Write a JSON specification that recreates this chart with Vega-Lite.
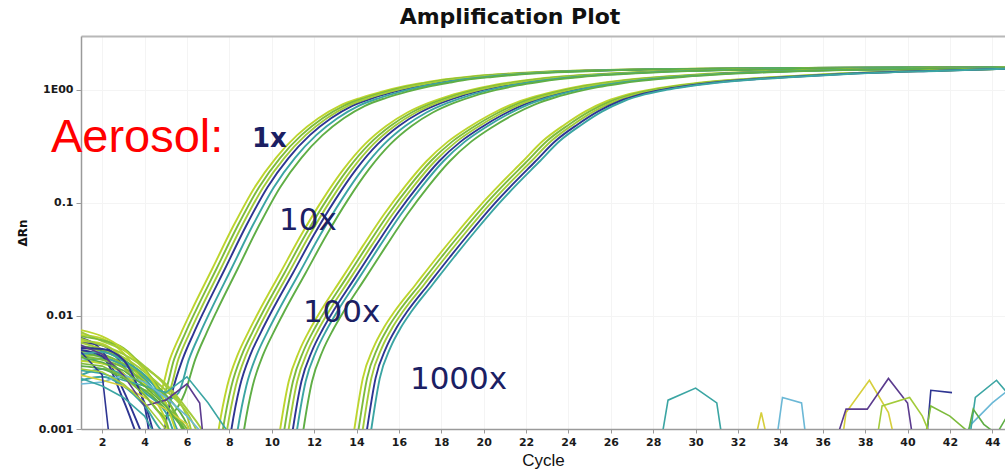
{
"$schema": "https://vega.github.io/schema/vega-lite/v6.json",
"width": 924, "height": 393,
"autosize": {"type": "none"},
"padding": {"left": 81, "top": 36, "right": 0, "bottom": 41},
"background": "white",
"title": {"text": "Amplification Plot", "font": "DejaVu Sans", "fontSize": 22, "fontWeight": "bold", "color": "#111111", "anchor": "middle", "dx": -33, "offset": 7},
"config": {
 "view": {"stroke": null},
 "axis": {"labelFont": "DejaVu Sans", "labelFontWeight": "bold", "labelFontSize": 11, "labelColor": "#1a1a1a", "domainColor": "#9a9a9a", "domainWidth": 1.5, "tickColor": "#9a9a9a", "gridColor": "#f4f4f4", "gridWidth": 1}
},
"resolve": {"axis": {"x": "independent"}},
"layer": [
{
 "data": {"values": [
{"well":"A1","cycle":1,"rn":0.0068},{"well":"A1","cycle":2,"rn":0.0063},{"well":"A1","cycle":3,"rn":0.0047},{"well":"A1","cycle":4,"rn":0.0027},{"well":"A1","cycle":4.7,"rn":0.00209},{"well":"A1","cycle":5.2,"rn":0.00417},{"well":"A1","cycle":5.7,"rn":0.00692},{"well":"A1","cycle":6.2,"rn":0.011},{"well":"A1","cycle":7.2,"rn":0.0263},{"well":"A1","cycle":8.2,"rn":0.0631},{"well":"A1","cycle":9.2,"rn":0.138},{"well":"A1","cycle":10.2,"rn":0.251},{"well":"A1","cycle":11.2,"rn":0.398},{"well":"A1","cycle":12.2,"rn":0.562},{"well":"A1","cycle":13.2,"rn":0.724},{"well":"A1","cycle":14.2,"rn":0.851},{"well":"A1","cycle":15.2,"rn":0.966},{"well":"A1","cycle":16.2,"rn":1.072},{"well":"A1","cycle":17.2,"rn":1.161},{"well":"A1","cycle":18.2,"rn":1.245},{"well":"A1","cycle":19.2,"rn":1.303},{"well":"A1","cycle":20.2,"rn":1.355},{"well":"A1","cycle":22.2,"rn":1.429},{"well":"A1","cycle":24.2,"rn":1.479},{"well":"A1","cycle":27.2,"rn":1.521},{"well":"A1","cycle":31.2,"rn":1.549},{"well":"A1","cycle":37.2,"rn":1.574},{"well":"A1","cycle":45.5,"rn":1.592},
{"well":"A2","cycle":1,"rn":0.0052},{"well":"A2","cycle":2,"rn":0.0049},{"well":"A2","cycle":3,"rn":0.004},{"well":"A2","cycle":4,"rn":0.0024},{"well":"A2","cycle":4.9,"rn":0.00209},{"well":"A2","cycle":5.4,"rn":0.00417},{"well":"A2","cycle":5.9,"rn":0.00692},{"well":"A2","cycle":6.4,"rn":0.011},{"well":"A2","cycle":7.4,"rn":0.0263},{"well":"A2","cycle":8.4,"rn":0.0631},{"well":"A2","cycle":9.4,"rn":0.138},{"well":"A2","cycle":10.4,"rn":0.251},{"well":"A2","cycle":11.4,"rn":0.398},{"well":"A2","cycle":12.4,"rn":0.562},{"well":"A2","cycle":13.4,"rn":0.724},{"well":"A2","cycle":14.4,"rn":0.851},{"well":"A2","cycle":15.4,"rn":0.966},{"well":"A2","cycle":16.4,"rn":1.072},{"well":"A2","cycle":17.4,"rn":1.161},{"well":"A2","cycle":18.4,"rn":1.245},{"well":"A2","cycle":19.4,"rn":1.303},{"well":"A2","cycle":20.4,"rn":1.355},{"well":"A2","cycle":22.4,"rn":1.429},{"well":"A2","cycle":24.4,"rn":1.479},{"well":"A2","cycle":27.4,"rn":1.521},{"well":"A2","cycle":31.4,"rn":1.549},{"well":"A2","cycle":37.4,"rn":1.574},{"well":"A2","cycle":45.5,"rn":1.592},
{"well":"A3","cycle":1,"rn":0.0058},{"well":"A3","cycle":2,"rn":0.0055},{"well":"A3","cycle":3,"rn":0.0036},{"well":"A3","cycle":4,"rn":0.0016},{"well":"A3","cycle":4.6,"rn":0.000398},{"well":"A3","cycle":4.9,"rn":0.000891},{"well":"A3","cycle":5.3,"rn":0.00209},{"well":"A3","cycle":5.8,"rn":0.00417},{"well":"A3","cycle":6.3,"rn":0.00692},{"well":"A3","cycle":6.8,"rn":0.011},{"well":"A3","cycle":7.8,"rn":0.0263},{"well":"A3","cycle":8.8,"rn":0.0631},{"well":"A3","cycle":9.8,"rn":0.138},{"well":"A3","cycle":10.8,"rn":0.251},{"well":"A3","cycle":11.8,"rn":0.398},{"well":"A3","cycle":12.8,"rn":0.562},{"well":"A3","cycle":13.8,"rn":0.724},{"well":"A3","cycle":14.8,"rn":0.851},{"well":"A3","cycle":15.8,"rn":0.966},{"well":"A3","cycle":16.8,"rn":1.072},{"well":"A3","cycle":17.8,"rn":1.161},{"well":"A3","cycle":18.8,"rn":1.245},{"well":"A3","cycle":19.8,"rn":1.303},{"well":"A3","cycle":20.8,"rn":1.355},{"well":"A3","cycle":22.8,"rn":1.429},{"well":"A3","cycle":24.8,"rn":1.479},{"well":"A3","cycle":27.8,"rn":1.521},{"well":"A3","cycle":31.8,"rn":1.549},{"well":"A3","cycle":37.8,"rn":1.574},{"well":"A3","cycle":45.5,"rn":1.592},
{"well":"A4","cycle":1,"rn":0.0045},{"well":"A4","cycle":2,"rn":0.0044},{"well":"A4","cycle":3,"rn":0.0035},{"well":"A4","cycle":4,"rn":0.0022},{"well":"A4","cycle":5.1,"rn":0.00209},{"well":"A4","cycle":5.6,"rn":0.00417},{"well":"A4","cycle":6.1,"rn":0.00692},{"well":"A4","cycle":6.6,"rn":0.011},{"well":"A4","cycle":7.6,"rn":0.0263},{"well":"A4","cycle":8.6,"rn":0.0631},{"well":"A4","cycle":9.6,"rn":0.138},{"well":"A4","cycle":10.6,"rn":0.251},{"well":"A4","cycle":11.6,"rn":0.398},{"well":"A4","cycle":12.6,"rn":0.562},{"well":"A4","cycle":13.6,"rn":0.724},{"well":"A4","cycle":14.6,"rn":0.851},{"well":"A4","cycle":15.6,"rn":0.966},{"well":"A4","cycle":16.6,"rn":1.072},{"well":"A4","cycle":17.6,"rn":1.161},{"well":"A4","cycle":18.6,"rn":1.245},{"well":"A4","cycle":19.6,"rn":1.303},{"well":"A4","cycle":20.6,"rn":1.355},{"well":"A4","cycle":22.6,"rn":1.429},{"well":"A4","cycle":24.6,"rn":1.479},{"well":"A4","cycle":27.6,"rn":1.521},{"well":"A4","cycle":31.6,"rn":1.549},{"well":"A4","cycle":37.6,"rn":1.574},{"well":"A4","cycle":45.5,"rn":1.592},
{"well":"A5","cycle":1,"rn":0.004},{"well":"A5","cycle":2,"rn":0.0042},{"well":"A5","cycle":3,"rn":0.0037},{"well":"A5","cycle":4,"rn":0.0028},{"well":"A5","cycle":5,"rn":0.0018},{"well":"A5","cycle":5.6,"rn":0.00209},{"well":"A5","cycle":6.1,"rn":0.00417},{"well":"A5","cycle":6.6,"rn":0.00692},{"well":"A5","cycle":7.1,"rn":0.011},{"well":"A5","cycle":8.1,"rn":0.0263},{"well":"A5","cycle":9.1,"rn":0.0631},{"well":"A5","cycle":10.1,"rn":0.138},{"well":"A5","cycle":11.1,"rn":0.251},{"well":"A5","cycle":12.1,"rn":0.398},{"well":"A5","cycle":13.1,"rn":0.562},{"well":"A5","cycle":14.1,"rn":0.724},{"well":"A5","cycle":15.1,"rn":0.851},{"well":"A5","cycle":16.1,"rn":0.966},{"well":"A5","cycle":17.1,"rn":1.072},{"well":"A5","cycle":18.1,"rn":1.161},{"well":"A5","cycle":19.1,"rn":1.245},{"well":"A5","cycle":20.1,"rn":1.303},{"well":"A5","cycle":21.1,"rn":1.355},{"well":"A5","cycle":23.1,"rn":1.429},{"well":"A5","cycle":25.1,"rn":1.479},{"well":"A5","cycle":28.1,"rn":1.521},{"well":"A5","cycle":32.1,"rn":1.549},{"well":"A5","cycle":38.1,"rn":1.574},{"well":"A5","cycle":45.5,"rn":1.592},
{"well":"A6","cycle":1,"rn":0.0047},{"well":"A6","cycle":2,"rn":0.0043},{"well":"A6","cycle":3,"rn":0.0031},{"well":"A6","cycle":4,"rn":0.002},{"well":"A6","cycle":5,"rn":0.0013},{"well":"A6","cycle":5.9,"rn":0.00209},{"well":"A6","cycle":6.4,"rn":0.00417},{"well":"A6","cycle":6.9,"rn":0.00692},{"well":"A6","cycle":7.4,"rn":0.011},{"well":"A6","cycle":8.4,"rn":0.0263},{"well":"A6","cycle":9.4,"rn":0.0631},{"well":"A6","cycle":10.4,"rn":0.138},{"well":"A6","cycle":11.4,"rn":0.251},{"well":"A6","cycle":12.4,"rn":0.398},{"well":"A6","cycle":13.4,"rn":0.562},{"well":"A6","cycle":14.4,"rn":0.724},{"well":"A6","cycle":15.4,"rn":0.851},{"well":"A6","cycle":16.4,"rn":0.966},{"well":"A6","cycle":17.4,"rn":1.072},{"well":"A6","cycle":18.4,"rn":1.161},{"well":"A6","cycle":19.4,"rn":1.245},{"well":"A6","cycle":20.4,"rn":1.303},{"well":"A6","cycle":21.4,"rn":1.355},{"well":"A6","cycle":23.4,"rn":1.429},{"well":"A6","cycle":25.4,"rn":1.479},{"well":"A6","cycle":28.4,"rn":1.521},{"well":"A6","cycle":32.4,"rn":1.549},{"well":"A6","cycle":38.4,"rn":1.574},{"well":"A6","cycle":45.5,"rn":1.592},
{"well":"B1","cycle":1,"rn":0.006},{"well":"B1","cycle":2,"rn":0.0057},{"well":"B1","cycle":3,"rn":0.0042},{"well":"B1","cycle":4,"rn":0.0025},{"well":"B1","cycle":5,"rn":0.0012},{"well":"B1","cycle":6,"rn":0.0003},{"well":"B1","cycle":7.2,"rn":0.000398},{"well":"B1","cycle":7.5,"rn":0.001},{"well":"B1","cycle":7.9,"rn":0.0024},{"well":"B1","cycle":8.4,"rn":0.00457},{"well":"B1","cycle":8.9,"rn":0.00724},{"well":"B1","cycle":9.4,"rn":0.011},{"well":"B1","cycle":10.4,"rn":0.024},{"well":"B1","cycle":11.4,"rn":0.0525},{"well":"B1","cycle":12.4,"rn":0.107},{"well":"B1","cycle":13.4,"rn":0.2},{"well":"B1","cycle":14.4,"rn":0.331},{"well":"B1","cycle":15.4,"rn":0.479},{"well":"B1","cycle":16.4,"rn":0.631},{"well":"B1","cycle":17.4,"rn":0.767},{"well":"B1","cycle":18.4,"rn":0.891},{"well":"B1","cycle":19.4,"rn":1.0},{"well":"B1","cycle":20.4,"rn":1.096},{"well":"B1","cycle":21.4,"rn":1.175},{"well":"B1","cycle":22.4,"rn":1.245},{"well":"B1","cycle":23.4,"rn":1.303},{"well":"B1","cycle":25.4,"rn":1.38},{"well":"B1","cycle":27.4,"rn":1.445},{"well":"B1","cycle":30.4,"rn":1.496},{"well":"B1","cycle":34.4,"rn":1.535},{"well":"B1","cycle":40.4,"rn":1.567},{"well":"B1","cycle":45.5,"rn":1.585},
{"well":"B2","cycle":1,"rn":0.0049},{"well":"B2","cycle":2,"rn":0.0046},{"well":"B2","cycle":3,"rn":0.0038},{"well":"B2","cycle":4,"rn":0.0029},{"well":"B2","cycle":5,"rn":0.0019},{"well":"B2","cycle":6,"rn":0.0008},{"well":"B2","cycle":7,"rn":0.0003},{"well":"B2","cycle":7.4,"rn":0.000398},{"well":"B2","cycle":7.7,"rn":0.001},{"well":"B2","cycle":8.1,"rn":0.0024},{"well":"B2","cycle":8.6,"rn":0.00457},{"well":"B2","cycle":9.1,"rn":0.00724},{"well":"B2","cycle":9.6,"rn":0.011},{"well":"B2","cycle":10.6,"rn":0.024},{"well":"B2","cycle":11.6,"rn":0.0525},{"well":"B2","cycle":12.6,"rn":0.107},{"well":"B2","cycle":13.6,"rn":0.2},{"well":"B2","cycle":14.6,"rn":0.331},{"well":"B2","cycle":15.6,"rn":0.479},{"well":"B2","cycle":16.6,"rn":0.631},{"well":"B2","cycle":17.6,"rn":0.767},{"well":"B2","cycle":18.6,"rn":0.891},{"well":"B2","cycle":19.6,"rn":1.0},{"well":"B2","cycle":20.6,"rn":1.096},{"well":"B2","cycle":21.6,"rn":1.175},{"well":"B2","cycle":22.6,"rn":1.245},{"well":"B2","cycle":23.6,"rn":1.303},{"well":"B2","cycle":25.6,"rn":1.38},{"well":"B2","cycle":27.6,"rn":1.445},{"well":"B2","cycle":30.6,"rn":1.496},{"well":"B2","cycle":34.6,"rn":1.535},{"well":"B2","cycle":40.6,"rn":1.567},{"well":"B2","cycle":45.5,"rn":1.585},
{"well":"B3","cycle":1,"rn":0.0064},{"well":"B3","cycle":2,"rn":0.0049},{"well":"B3","cycle":3,"rn":0.0022},{"well":"B3","cycle":4,"rn":0.0008},{"well":"B3","cycle":5,"rn":0.0003},{"well":"B3","cycle":7.8,"rn":0.000398},{"well":"B3","cycle":8.1,"rn":0.001},{"well":"B3","cycle":8.5,"rn":0.0024},{"well":"B3","cycle":9,"rn":0.00457},{"well":"B3","cycle":9.5,"rn":0.00724},{"well":"B3","cycle":10,"rn":0.011},{"well":"B3","cycle":11,"rn":0.024},{"well":"B3","cycle":12,"rn":0.0525},{"well":"B3","cycle":13,"rn":0.107},{"well":"B3","cycle":14,"rn":0.2},{"well":"B3","cycle":15,"rn":0.331},{"well":"B3","cycle":16,"rn":0.479},{"well":"B3","cycle":17,"rn":0.631},{"well":"B3","cycle":18,"rn":0.767},{"well":"B3","cycle":19,"rn":0.891},{"well":"B3","cycle":20,"rn":1.0},{"well":"B3","cycle":21,"rn":1.096},{"well":"B3","cycle":22,"rn":1.175},{"well":"B3","cycle":23,"rn":1.245},{"well":"B3","cycle":24,"rn":1.303},{"well":"B3","cycle":26,"rn":1.38},{"well":"B3","cycle":28,"rn":1.445},{"well":"B3","cycle":31,"rn":1.496},{"well":"B3","cycle":35,"rn":1.535},{"well":"B3","cycle":41,"rn":1.567},{"well":"B3","cycle":45.5,"rn":1.585},
{"well":"B4","cycle":1,"rn":0.0072},{"well":"B4","cycle":2,"rn":0.006},{"well":"B4","cycle":3,"rn":0.005},{"well":"B4","cycle":4,"rn":0.0036},{"well":"B4","cycle":5,"rn":0.0024},{"well":"B4","cycle":6,"rn":0.0013},{"well":"B4","cycle":7,"rn":0.0003},{"well":"B4","cycle":7.6,"rn":0.000398},{"well":"B4","cycle":7.9,"rn":0.001},{"well":"B4","cycle":8.3,"rn":0.0024},{"well":"B4","cycle":8.8,"rn":0.00457},{"well":"B4","cycle":9.3,"rn":0.00724},{"well":"B4","cycle":9.8,"rn":0.011},{"well":"B4","cycle":10.8,"rn":0.024},{"well":"B4","cycle":11.8,"rn":0.0525},{"well":"B4","cycle":12.8,"rn":0.107},{"well":"B4","cycle":13.8,"rn":0.2},{"well":"B4","cycle":14.8,"rn":0.331},{"well":"B4","cycle":15.8,"rn":0.479},{"well":"B4","cycle":16.8,"rn":0.631},{"well":"B4","cycle":17.8,"rn":0.767},{"well":"B4","cycle":18.8,"rn":0.891},{"well":"B4","cycle":19.8,"rn":1.0},{"well":"B4","cycle":20.8,"rn":1.096},{"well":"B4","cycle":21.8,"rn":1.175},{"well":"B4","cycle":22.8,"rn":1.245},{"well":"B4","cycle":23.8,"rn":1.303},{"well":"B4","cycle":25.8,"rn":1.38},{"well":"B4","cycle":27.8,"rn":1.445},{"well":"B4","cycle":30.8,"rn":1.496},{"well":"B4","cycle":34.8,"rn":1.535},{"well":"B4","cycle":40.8,"rn":1.567},{"well":"B4","cycle":45.5,"rn":1.585},
{"well":"B5","cycle":1,"rn":0.003},{"well":"B5","cycle":2,"rn":0.0034},{"well":"B5","cycle":3,"rn":0.003},{"well":"B5","cycle":4,"rn":0.0021},{"well":"B5","cycle":5,"rn":0.0014},{"well":"B5","cycle":6,"rn":0.0005},{"well":"B5","cycle":8.1,"rn":0.000398},{"well":"B5","cycle":8.4,"rn":0.001},{"well":"B5","cycle":8.8,"rn":0.0024},{"well":"B5","cycle":9.3,"rn":0.00457},{"well":"B5","cycle":9.8,"rn":0.00724},{"well":"B5","cycle":10.3,"rn":0.011},{"well":"B5","cycle":11.3,"rn":0.024},{"well":"B5","cycle":12.3,"rn":0.0525},{"well":"B5","cycle":13.3,"rn":0.107},{"well":"B5","cycle":14.3,"rn":0.2},{"well":"B5","cycle":15.3,"rn":0.331},{"well":"B5","cycle":16.3,"rn":0.479},{"well":"B5","cycle":17.3,"rn":0.631},{"well":"B5","cycle":18.3,"rn":0.767},{"well":"B5","cycle":19.3,"rn":0.891},{"well":"B5","cycle":20.3,"rn":1.0},{"well":"B5","cycle":21.3,"rn":1.096},{"well":"B5","cycle":22.3,"rn":1.175},{"well":"B5","cycle":23.3,"rn":1.245},{"well":"B5","cycle":24.3,"rn":1.303},{"well":"B5","cycle":26.3,"rn":1.38},{"well":"B5","cycle":28.3,"rn":1.445},{"well":"B5","cycle":31.3,"rn":1.496},{"well":"B5","cycle":35.3,"rn":1.535},{"well":"B5","cycle":41.3,"rn":1.567},{"well":"B5","cycle":45.5,"rn":1.585},
{"well":"B6","cycle":1,"rn":0.0054},{"well":"B6","cycle":2,"rn":0.005},{"well":"B6","cycle":3,"rn":0.0041},{"well":"B6","cycle":4,"rn":0.003},{"well":"B6","cycle":5,"rn":0.002},{"well":"B6","cycle":6,"rn":0.0011},{"well":"B6","cycle":7,"rn":0.0003},{"well":"B6","cycle":8.4,"rn":0.000398},{"well":"B6","cycle":8.7,"rn":0.001},{"well":"B6","cycle":9.1,"rn":0.0024},{"well":"B6","cycle":9.6,"rn":0.00457},{"well":"B6","cycle":10.1,"rn":0.00724},{"well":"B6","cycle":10.6,"rn":0.011},{"well":"B6","cycle":11.6,"rn":0.024},{"well":"B6","cycle":12.6,"rn":0.0525},{"well":"B6","cycle":13.6,"rn":0.107},{"well":"B6","cycle":14.6,"rn":0.2},{"well":"B6","cycle":15.6,"rn":0.331},{"well":"B6","cycle":16.6,"rn":0.479},{"well":"B6","cycle":17.6,"rn":0.631},{"well":"B6","cycle":18.6,"rn":0.767},{"well":"B6","cycle":19.6,"rn":0.891},{"well":"B6","cycle":20.6,"rn":1.0},{"well":"B6","cycle":21.6,"rn":1.096},{"well":"B6","cycle":22.6,"rn":1.175},{"well":"B6","cycle":23.6,"rn":1.245},{"well":"B6","cycle":24.6,"rn":1.303},{"well":"B6","cycle":26.6,"rn":1.38},{"well":"B6","cycle":28.6,"rn":1.445},{"well":"B6","cycle":31.6,"rn":1.496},{"well":"B6","cycle":35.6,"rn":1.535},{"well":"B6","cycle":41.6,"rn":1.567},{"well":"B6","cycle":45.5,"rn":1.585},
{"well":"C1","cycle":1,"rn":0.004},{"well":"C1","cycle":2,"rn":0.0038},{"well":"C1","cycle":3,"rn":0.0031},{"well":"C1","cycle":4,"rn":0.002},{"well":"C1","cycle":5,"rn":0.0011},{"well":"C1","cycle":6,"rn":0.0003},{"well":"C1","cycle":10.1,"rn":0.000398},{"well":"C1","cycle":10.4,"rn":0.001},{"well":"C1","cycle":10.8,"rn":0.00263},{"well":"C1","cycle":11.3,"rn":0.0049},{"well":"C1","cycle":11.8,"rn":0.00759},{"well":"C1","cycle":12.3,"rn":0.011},{"well":"C1","cycle":13.3,"rn":0.0214},{"well":"C1","cycle":14.3,"rn":0.0417},{"well":"C1","cycle":15.3,"rn":0.0794},{"well":"C1","cycle":16.3,"rn":0.141},{"well":"C1","cycle":17.3,"rn":0.234},{"well":"C1","cycle":18.3,"rn":0.347},{"well":"C1","cycle":19.3,"rn":0.468},{"well":"C1","cycle":20.3,"rn":0.603},{"well":"C1","cycle":21.3,"rn":0.741},{"well":"C1","cycle":22.3,"rn":0.861},{"well":"C1","cycle":23.3,"rn":0.966},{"well":"C1","cycle":24.3,"rn":1.059},{"well":"C1","cycle":25.3,"rn":1.135},{"well":"C1","cycle":26.3,"rn":1.202},{"well":"C1","cycle":28.3,"rn":1.303},{"well":"C1","cycle":30.3,"rn":1.38},{"well":"C1","cycle":33.3,"rn":1.455},{"well":"C1","cycle":37.3,"rn":1.514},{"well":"C1","cycle":43.3,"rn":1.56},{"well":"C1","cycle":45.5,"rn":1.578},
{"well":"C2","cycle":1,"rn":0.0066},{"well":"C2","cycle":2,"rn":0.0061},{"well":"C2","cycle":3,"rn":0.0052},{"well":"C2","cycle":4,"rn":0.0034},{"well":"C2","cycle":5,"rn":0.0019},{"well":"C2","cycle":6,"rn":0.0009},{"well":"C2","cycle":7,"rn":0.0003},{"well":"C2","cycle":10.3,"rn":0.000398},{"well":"C2","cycle":10.6,"rn":0.001},{"well":"C2","cycle":11,"rn":0.00263},{"well":"C2","cycle":11.5,"rn":0.0049},{"well":"C2","cycle":12,"rn":0.00759},{"well":"C2","cycle":12.5,"rn":0.011},{"well":"C2","cycle":13.5,"rn":0.0214},{"well":"C2","cycle":14.5,"rn":0.0417},{"well":"C2","cycle":15.5,"rn":0.0794},{"well":"C2","cycle":16.5,"rn":0.141},{"well":"C2","cycle":17.5,"rn":0.234},{"well":"C2","cycle":18.5,"rn":0.347},{"well":"C2","cycle":19.5,"rn":0.468},{"well":"C2","cycle":20.5,"rn":0.603},{"well":"C2","cycle":21.5,"rn":0.741},{"well":"C2","cycle":22.5,"rn":0.861},{"well":"C2","cycle":23.5,"rn":0.966},{"well":"C2","cycle":24.5,"rn":1.059},{"well":"C2","cycle":25.5,"rn":1.135},{"well":"C2","cycle":26.5,"rn":1.202},{"well":"C2","cycle":28.5,"rn":1.303},{"well":"C2","cycle":30.5,"rn":1.38},{"well":"C2","cycle":33.5,"rn":1.455},{"well":"C2","cycle":37.5,"rn":1.514},{"well":"C2","cycle":43.5,"rn":1.56},{"well":"C2","cycle":45.5,"rn":1.578},
{"well":"C3","cycle":1,"rn":0.005},{"well":"C3","cycle":2,"rn":0.0044},{"well":"C3","cycle":3,"rn":0.0018},{"well":"C3","cycle":4,"rn":0.0006},{"well":"C3","cycle":5,"rn":0.0003},{"well":"C3","cycle":10.7,"rn":0.000398},{"well":"C3","cycle":11,"rn":0.001},{"well":"C3","cycle":11.4,"rn":0.00263},{"well":"C3","cycle":11.9,"rn":0.0049},{"well":"C3","cycle":12.4,"rn":0.00759},{"well":"C3","cycle":12.9,"rn":0.011},{"well":"C3","cycle":13.9,"rn":0.0214},{"well":"C3","cycle":14.9,"rn":0.0417},{"well":"C3","cycle":15.9,"rn":0.0794},{"well":"C3","cycle":16.9,"rn":0.141},{"well":"C3","cycle":17.9,"rn":0.234},{"well":"C3","cycle":18.9,"rn":0.347},{"well":"C3","cycle":19.9,"rn":0.468},{"well":"C3","cycle":20.9,"rn":0.603},{"well":"C3","cycle":21.9,"rn":0.741},{"well":"C3","cycle":22.9,"rn":0.861},{"well":"C3","cycle":23.9,"rn":0.966},{"well":"C3","cycle":24.9,"rn":1.059},{"well":"C3","cycle":25.9,"rn":1.135},{"well":"C3","cycle":26.9,"rn":1.202},{"well":"C3","cycle":28.9,"rn":1.303},{"well":"C3","cycle":30.9,"rn":1.38},{"well":"C3","cycle":33.9,"rn":1.455},{"well":"C3","cycle":37.9,"rn":1.514},{"well":"C3","cycle":43.9,"rn":1.56},{"well":"C3","cycle":45.5,"rn":1.578},
{"well":"C4","cycle":1,"rn":0.0058},{"well":"C4","cycle":2,"rn":0.0051},{"well":"C4","cycle":3,"rn":0.0043},{"well":"C4","cycle":4,"rn":0.0032},{"well":"C4","cycle":5,"rn":0.0022},{"well":"C4","cycle":6,"rn":0.0014},{"well":"C4","cycle":7,"rn":0.0006},{"well":"C4","cycle":8,"rn":0.0003},{"well":"C4","cycle":10.5,"rn":0.000398},{"well":"C4","cycle":10.8,"rn":0.001},{"well":"C4","cycle":11.2,"rn":0.00263},{"well":"C4","cycle":11.7,"rn":0.0049},{"well":"C4","cycle":12.2,"rn":0.00759},{"well":"C4","cycle":12.7,"rn":0.011},{"well":"C4","cycle":13.7,"rn":0.0214},{"well":"C4","cycle":14.7,"rn":0.0417},{"well":"C4","cycle":15.7,"rn":0.0794},{"well":"C4","cycle":16.7,"rn":0.141},{"well":"C4","cycle":17.7,"rn":0.234},{"well":"C4","cycle":18.7,"rn":0.347},{"well":"C4","cycle":19.7,"rn":0.468},{"well":"C4","cycle":20.7,"rn":0.603},{"well":"C4","cycle":21.7,"rn":0.741},{"well":"C4","cycle":22.7,"rn":0.861},{"well":"C4","cycle":23.7,"rn":0.966},{"well":"C4","cycle":24.7,"rn":1.059},{"well":"C4","cycle":25.7,"rn":1.135},{"well":"C4","cycle":26.7,"rn":1.202},{"well":"C4","cycle":28.7,"rn":1.303},{"well":"C4","cycle":30.7,"rn":1.38},{"well":"C4","cycle":33.7,"rn":1.455},{"well":"C4","cycle":37.7,"rn":1.514},{"well":"C4","cycle":43.7,"rn":1.56},{"well":"C4","cycle":45.5,"rn":1.578},
{"well":"C5","cycle":1,"rn":0.0046},{"well":"C5","cycle":2,"rn":0.0048},{"well":"C5","cycle":3,"rn":0.004},{"well":"C5","cycle":4,"rn":0.003},{"well":"C5","cycle":5,"rn":0.0017},{"well":"C5","cycle":6,"rn":0.0007},{"well":"C5","cycle":10.9,"rn":0.000398},{"well":"C5","cycle":11.2,"rn":0.001},{"well":"C5","cycle":11.6,"rn":0.00263},{"well":"C5","cycle":12.1,"rn":0.0049},{"well":"C5","cycle":12.6,"rn":0.00759},{"well":"C5","cycle":13.1,"rn":0.011},{"well":"C5","cycle":14.1,"rn":0.0214},{"well":"C5","cycle":15.1,"rn":0.0417},{"well":"C5","cycle":16.1,"rn":0.0794},{"well":"C5","cycle":17.1,"rn":0.141},{"well":"C5","cycle":18.1,"rn":0.234},{"well":"C5","cycle":19.1,"rn":0.347},{"well":"C5","cycle":20.1,"rn":0.468},{"well":"C5","cycle":21.1,"rn":0.603},{"well":"C5","cycle":22.1,"rn":0.741},{"well":"C5","cycle":23.1,"rn":0.861},{"well":"C5","cycle":24.1,"rn":0.966},{"well":"C5","cycle":25.1,"rn":1.059},{"well":"C5","cycle":26.1,"rn":1.135},{"well":"C5","cycle":27.1,"rn":1.202},{"well":"C5","cycle":29.1,"rn":1.303},{"well":"C5","cycle":31.1,"rn":1.38},{"well":"C5","cycle":34.1,"rn":1.455},{"well":"C5","cycle":38.1,"rn":1.514},{"well":"C5","cycle":44.1,"rn":1.56},{"well":"C5","cycle":45.5,"rn":1.578},
{"well":"C6","cycle":1,"rn":0.0036},{"well":"C6","cycle":2,"rn":0.0034},{"well":"C6","cycle":3,"rn":0.0028},{"well":"C6","cycle":4,"rn":0.0022},{"well":"C6","cycle":5,"rn":0.0015},{"well":"C6","cycle":6,"rn":0.0009},{"well":"C6","cycle":7,"rn":0.0003},{"well":"C6","cycle":11.2,"rn":0.000398},{"well":"C6","cycle":11.5,"rn":0.001},{"well":"C6","cycle":11.9,"rn":0.00263},{"well":"C6","cycle":12.4,"rn":0.0049},{"well":"C6","cycle":12.9,"rn":0.00759},{"well":"C6","cycle":13.4,"rn":0.011},{"well":"C6","cycle":14.4,"rn":0.0214},{"well":"C6","cycle":15.4,"rn":0.0417},{"well":"C6","cycle":16.4,"rn":0.0794},{"well":"C6","cycle":17.4,"rn":0.141},{"well":"C6","cycle":18.4,"rn":0.234},{"well":"C6","cycle":19.4,"rn":0.347},{"well":"C6","cycle":20.4,"rn":0.468},{"well":"C6","cycle":21.4,"rn":0.603},{"well":"C6","cycle":22.4,"rn":0.741},{"well":"C6","cycle":23.4,"rn":0.861},{"well":"C6","cycle":24.4,"rn":0.966},{"well":"C6","cycle":25.4,"rn":1.059},{"well":"C6","cycle":26.4,"rn":1.135},{"well":"C6","cycle":27.4,"rn":1.202},{"well":"C6","cycle":29.4,"rn":1.303},{"well":"C6","cycle":31.4,"rn":1.38},{"well":"C6","cycle":34.4,"rn":1.455},{"well":"C6","cycle":38.4,"rn":1.514},{"well":"C6","cycle":44.4,"rn":1.56},{"well":"C6","cycle":45.5,"rn":1.578},
{"well":"D1","cycle":1,"rn":0.0075},{"well":"D1","cycle":2,"rn":0.0066},{"well":"D1","cycle":3,"rn":0.0051},{"well":"D1","cycle":4,"rn":0.0033},{"well":"D1","cycle":5,"rn":0.0017},{"well":"D1","cycle":6,"rn":0.0006},{"well":"D1","cycle":13.6,"rn":0.000398},{"well":"D1","cycle":13.9,"rn":0.001},{"well":"D1","cycle":14.3,"rn":0.00282},{"well":"D1","cycle":14.8,"rn":0.00525},{"well":"D1","cycle":15.3,"rn":0.00794},{"well":"D1","cycle":15.8,"rn":0.011},{"well":"D1","cycle":16.8,"rn":0.0191},{"well":"D1","cycle":17.8,"rn":0.0331},{"well":"D1","cycle":18.8,"rn":0.0562},{"well":"D1","cycle":19.8,"rn":0.0933},{"well":"D1","cycle":20.8,"rn":0.148},{"well":"D1","cycle":21.8,"rn":0.229},{"well":"D1","cycle":22.8,"rn":0.355},{"well":"D1","cycle":23.8,"rn":0.49},{"well":"D1","cycle":24.8,"rn":0.646},{"well":"D1","cycle":25.8,"rn":0.794},{"well":"D1","cycle":26.8,"rn":0.912},{"well":"D1","cycle":27.8,"rn":1.0},{"well":"D1","cycle":28.8,"rn":1.072},{"well":"D1","cycle":29.8,"rn":1.135},{"well":"D1","cycle":31.8,"rn":1.23},{"well":"D1","cycle":33.8,"rn":1.303},{"well":"D1","cycle":36.8,"rn":1.396},{"well":"D1","cycle":40.8,"rn":1.479},{"well":"D1","cycle":45.5,"rn":1.555},
{"well":"D2","cycle":1,"rn":0.0044},{"well":"D2","cycle":2,"rn":0.0041},{"well":"D2","cycle":3,"rn":0.0035},{"well":"D2","cycle":4,"rn":0.0026},{"well":"D2","cycle":5,"rn":0.0016},{"well":"D2","cycle":6,"rn":0.001},{"well":"D2","cycle":7,"rn":0.0004},{"well":"D2","cycle":13.8,"rn":0.000398},{"well":"D2","cycle":14.1,"rn":0.001},{"well":"D2","cycle":14.5,"rn":0.00282},{"well":"D2","cycle":15,"rn":0.00525},{"well":"D2","cycle":15.5,"rn":0.00794},{"well":"D2","cycle":16,"rn":0.011},{"well":"D2","cycle":17,"rn":0.0191},{"well":"D2","cycle":18,"rn":0.0331},{"well":"D2","cycle":19,"rn":0.0562},{"well":"D2","cycle":20,"rn":0.0933},{"well":"D2","cycle":21,"rn":0.148},{"well":"D2","cycle":22,"rn":0.229},{"well":"D2","cycle":23,"rn":0.355},{"well":"D2","cycle":24,"rn":0.49},{"well":"D2","cycle":25,"rn":0.646},{"well":"D2","cycle":26,"rn":0.794},{"well":"D2","cycle":27,"rn":0.912},{"well":"D2","cycle":28,"rn":1.0},{"well":"D2","cycle":29,"rn":1.072},{"well":"D2","cycle":30,"rn":1.135},{"well":"D2","cycle":32,"rn":1.23},{"well":"D2","cycle":34,"rn":1.303},{"well":"D2","cycle":37,"rn":1.396},{"well":"D2","cycle":41,"rn":1.479},{"well":"D2","cycle":45.5,"rn":1.555},
{"well":"D3","cycle":1,"rn":0.0063},{"well":"D3","cycle":2,"rn":0.0055},{"well":"D3","cycle":3,"rn":0.0046},{"well":"D3","cycle":4,"rn":0.0035},{"well":"D3","cycle":5,"rn":0.0025},{"well":"D3","cycle":6,"rn":0.0015},{"well":"D3","cycle":7,"rn":0.0008},{"well":"D3","cycle":8,"rn":0.0003},{"well":"D3","cycle":14,"rn":0.000398},{"well":"D3","cycle":14.3,"rn":0.001},{"well":"D3","cycle":14.7,"rn":0.00282},{"well":"D3","cycle":15.2,"rn":0.00525},{"well":"D3","cycle":15.7,"rn":0.00794},{"well":"D3","cycle":16.2,"rn":0.011},{"well":"D3","cycle":17.2,"rn":0.0191},{"well":"D3","cycle":18.2,"rn":0.0331},{"well":"D3","cycle":19.2,"rn":0.0562},{"well":"D3","cycle":20.2,"rn":0.0933},{"well":"D3","cycle":21.2,"rn":0.148},{"well":"D3","cycle":22.2,"rn":0.229},{"well":"D3","cycle":23.2,"rn":0.355},{"well":"D3","cycle":24.2,"rn":0.49},{"well":"D3","cycle":25.2,"rn":0.646},{"well":"D3","cycle":26.2,"rn":0.794},{"well":"D3","cycle":27.2,"rn":0.912},{"well":"D3","cycle":28.2,"rn":1.0},{"well":"D3","cycle":29.2,"rn":1.072},{"well":"D3","cycle":30.2,"rn":1.135},{"well":"D3","cycle":32.2,"rn":1.23},{"well":"D3","cycle":34.2,"rn":1.303},{"well":"D3","cycle":37.2,"rn":1.396},{"well":"D3","cycle":41.2,"rn":1.479},{"well":"D3","cycle":45.5,"rn":1.555},
{"well":"D4","cycle":1,"rn":0.0052},{"well":"D4","cycle":2,"rn":0.0051},{"well":"D4","cycle":3,"rn":0.0041},{"well":"D4","cycle":4,"rn":0.0017},{"well":"D4","cycle":5,"rn":0.0005},{"well":"D4","cycle":14.2,"rn":0.000398},{"well":"D4","cycle":14.5,"rn":0.001},{"well":"D4","cycle":14.9,"rn":0.00282},{"well":"D4","cycle":15.4,"rn":0.00525},{"well":"D4","cycle":15.9,"rn":0.00794},{"well":"D4","cycle":16.4,"rn":0.011},{"well":"D4","cycle":17.4,"rn":0.0191},{"well":"D4","cycle":18.4,"rn":0.0331},{"well":"D4","cycle":19.4,"rn":0.0562},{"well":"D4","cycle":20.4,"rn":0.0933},{"well":"D4","cycle":21.4,"rn":0.148},{"well":"D4","cycle":22.4,"rn":0.229},{"well":"D4","cycle":23.4,"rn":0.355},{"well":"D4","cycle":24.4,"rn":0.49},{"well":"D4","cycle":25.4,"rn":0.646},{"well":"D4","cycle":26.4,"rn":0.794},{"well":"D4","cycle":27.4,"rn":0.912},{"well":"D4","cycle":28.4,"rn":1.0},{"well":"D4","cycle":29.4,"rn":1.072},{"well":"D4","cycle":30.4,"rn":1.135},{"well":"D4","cycle":32.4,"rn":1.23},{"well":"D4","cycle":34.4,"rn":1.303},{"well":"D4","cycle":37.4,"rn":1.396},{"well":"D4","cycle":41.4,"rn":1.479},{"well":"D4","cycle":45.5,"rn":1.555},
{"well":"D5","cycle":1,"rn":0.0027},{"well":"D5","cycle":2,"rn":0.0029},{"well":"D5","cycle":3,"rn":0.0024},{"well":"D5","cycle":4,"rn":0.0016},{"well":"D5","cycle":5,"rn":0.0009},{"well":"D5","cycle":14.4,"rn":0.000398},{"well":"D5","cycle":14.7,"rn":0.001},{"well":"D5","cycle":15.1,"rn":0.00282},{"well":"D5","cycle":15.6,"rn":0.00525},{"well":"D5","cycle":16.1,"rn":0.00794},{"well":"D5","cycle":16.6,"rn":0.011},{"well":"D5","cycle":17.6,"rn":0.0191},{"well":"D5","cycle":18.6,"rn":0.0331},{"well":"D5","cycle":19.6,"rn":0.0562},{"well":"D5","cycle":20.6,"rn":0.0933},{"well":"D5","cycle":21.6,"rn":0.148},{"well":"D5","cycle":22.6,"rn":0.229},{"well":"D5","cycle":23.6,"rn":0.355},{"well":"D5","cycle":24.6,"rn":0.49},{"well":"D5","cycle":25.6,"rn":0.646},{"well":"D5","cycle":26.6,"rn":0.794},{"well":"D5","cycle":27.6,"rn":0.912},{"well":"D5","cycle":28.6,"rn":1.0},{"well":"D5","cycle":29.6,"rn":1.072},{"well":"D5","cycle":30.6,"rn":1.135},{"well":"D5","cycle":32.6,"rn":1.23},{"well":"D5","cycle":34.6,"rn":1.303},{"well":"D5","cycle":37.6,"rn":1.396},{"well":"D5","cycle":41.6,"rn":1.479},{"well":"D5","cycle":45.5,"rn":1.555}
 ]},
 "mark": {"type": "line", "clip": true, "strokeWidth": 1.9, "interpolate": "monotone"},
 "encoding": {
  "x": {"field": "cycle", "type": "quantitative", "scale": {"domain": [1, 44.6], "nice": false, "zero": false},
        "axis": {"values": [2,4,6,8,10,12,14,16,18,20,22,24,26,28,30,32,34,36,38,40,42,44], "tickSize": 4, "labelPadding": 3, "grid": true, "title": "Cycle", "titleFont": "Liberation Sans", "titleFontSize": 17, "titleFontWeight": "normal", "titleColor": "#111111", "titlePadding": 5}},
  "y": {"field": "rn", "type": "quantitative", "scale": {"type": "log", "domain": [0.001, 3], "nice": false},
        "axis": {"values": [0.001, 0.01, 0.1, 1], "labelExpr": "datum.value >= 1 ? '1E00' : datum.value >= 0.1 ? '0.1' : datum.value >= 0.01 ? '0.01' : '0.001'", "tickSize": 5, "labelPadding": 3, "grid": true, "title": "ΔRn", "titleFont": "DejaVu Sans", "titleFontSize": 12, "titleFontWeight": "bold", "titleColor": "#111111", "titlePadding": 9}},
  "color": {"field": "well", "type": "nominal", "legend": null,
   "scale": {"domain": ["A1","A2","A3","A4","A5","A6","B1","B2","B3","B4","B5","B6","C1","C2","C3","C4","C5","C6","D1","D2","D3","D4","D5","N1","N2","N3","N4","N5","N6","N7","N8","N9"],
             "range": ["#bdd52e","#7dbb3c","#2e3592","#a3cb3a","#3ba5a3","#5fae45","#bdd52e","#7dbb3c","#2e3592","#a3cb3a","#3ba5a3","#5fae45","#bdd52e","#7dbb3c","#2e3592","#a3cb3a","#3ba5a3","#5fae45","#bdd52e","#7dbb3c","#a3cb3a","#2e3592","#3ba5a3","#3ba5a3","#6bb8d6","#d6cf3c","#5b3b8e","#2e3592","#7dbb3c","#3ba5a3","#a3cb3a","#5fae45"]}}
 }
},
{
 "data": {"values": [
{"well":"N1","cycle":1,"rn":0.0033},{"well":"N1","cycle":2,"rn":0.0031},{"well":"N1","cycle":3,"rn":0.0027},{"well":"N1","cycle":4,"rn":0.0024},{"well":"N1","cycle":5,"rn":0.0021},{"well":"N1","cycle":6,"rn":0.0029},{"well":"N1","cycle":7,"rn":0.0017},{"well":"N1","cycle":8,"rn":0.0009},{"well":"N1","cycle":9,"rn":0.0003},{"well":"N1","cycle":28,"rn":0.0003},{"well":"N1","cycle":28.7,"rn":0.0018},{"well":"N1","cycle":30,"rn":0.0023},{"well":"N1","cycle":31,"rn":0.0017},{"well":"N1","cycle":31.6,"rn":0.0003},
{"well":"N2","cycle":1,"rn":0.0025},{"well":"N2","cycle":2,"rn":0.0026},{"well":"N2","cycle":3,"rn":0.003},{"well":"N2","cycle":4,"rn":0.0026},{"well":"N2","cycle":5,"rn":0.0019},{"well":"N2","cycle":6,"rn":0.0013},{"well":"N2","cycle":7,"rn":0.0008},{"well":"N2","cycle":8,"rn":0.0003},{"well":"N2","cycle":33.5,"rn":0.0003},{"well":"N2","cycle":34.1,"rn":0.0019},{"well":"N2","cycle":35,"rn":0.0017},{"well":"N2","cycle":35.5,"rn":0.0003},{"well":"N2","cycle":41.6,"rn":0.0003},{"well":"N2","cycle":43,"rn":0.0011},{"well":"N2","cycle":44,"rn":0.0017},{"well":"N2","cycle":45,"rn":0.0024},
{"well":"N3","cycle":1,"rn":0.003},{"well":"N3","cycle":2,"rn":0.0027},{"well":"N3","cycle":3,"rn":0.0024},{"well":"N3","cycle":4,"rn":0.0019},{"well":"N3","cycle":5,"rn":0.0015},{"well":"N3","cycle":6,"rn":0.0011},{"well":"N3","cycle":7,"rn":0.0003},{"well":"N3","cycle":32.3,"rn":0.0003},{"well":"N3","cycle":33.1,"rn":0.0014},{"well":"N3","cycle":33.9,"rn":0.0003},{"well":"N3","cycle":36.6,"rn":0.0003},{"well":"N3","cycle":37.1,"rn":0.0014},{"well":"N3","cycle":38.2,"rn":0.0027},{"well":"N3","cycle":39.1,"rn":0.0014},{"well":"N3","cycle":39.9,"rn":0.0003},
{"well":"N4","cycle":1,"rn":0.0055},{"well":"N4","cycle":2,"rn":0.0046},{"well":"N4","cycle":3,"rn":0.003},{"well":"N4","cycle":4,"rn":0.0016},{"well":"N4","cycle":4.5,"rn":0.0017},{"well":"N4","cycle":5,"rn":0.0018},{"well":"N4","cycle":6,"rn":0.0025},{"well":"N4","cycle":6.6,"rn":0.0017},{"well":"N4","cycle":7,"rn":0.0003},{"well":"N4","cycle":35.9,"rn":0.0003},{"well":"N4","cycle":37.1,"rn":0.0015},{"well":"N4","cycle":38.1,"rn":0.0015},{"well":"N4","cycle":39.1,"rn":0.0028},{"well":"N4","cycle":40,"rn":0.0017},{"well":"N4","cycle":40.6,"rn":0.0003},
{"well":"N5","cycle":1,"rn":0.0048},{"well":"N5","cycle":2,"rn":0.003},{"well":"N5","cycle":2.6,"rn":0.0003},{"well":"N5","cycle":40.7,"rn":0.0003},{"well":"N5","cycle":41.1,"rn":0.0022},{"well":"N5","cycle":42.1,"rn":0.0021},
{"well":"N6","cycle":1,"rn":0.0038},{"well":"N6","cycle":2,"rn":0.0036},{"well":"N6","cycle":3,"rn":0.0029},{"well":"N6","cycle":4,"rn":0.002},{"well":"N6","cycle":5,"rn":0.0012},{"well":"N6","cycle":6,"rn":0.0003},{"well":"N6","cycle":40.4,"rn":0.0003},{"well":"N6","cycle":41.1,"rn":0.0016},{"well":"N6","cycle":42,"rn":0.0013},{"well":"N6","cycle":43,"rn":0.0009},{"well":"N6","cycle":43.6,"rn":0.0003},
{"well":"N7","cycle":1,"rn":0.0028},{"well":"N7","cycle":2,"rn":0.0024},{"well":"N7","cycle":3,"rn":0.0019},{"well":"N7","cycle":4,"rn":0.0013},{"well":"N7","cycle":5,"rn":0.0006},{"well":"N7","cycle":42.6,"rn":0.0003},{"well":"N7","cycle":43.2,"rn":0.0019},{"well":"N7","cycle":44.2,"rn":0.0027},{"well":"N7","cycle":45,"rn":0.0018},
{"well":"N8","cycle":1,"rn":0.0034},{"well":"N8","cycle":2,"rn":0.0032},{"well":"N8","cycle":3,"rn":0.0025},{"well":"N8","cycle":4,"rn":0.0017},{"well":"N8","cycle":5,"rn":0.001},{"well":"N8","cycle":5.6,"rn":0.0003},{"well":"N8","cycle":38.2,"rn":0.0003},{"well":"N8","cycle":38.8,"rn":0.0016},{"well":"N8","cycle":40.1,"rn":0.0019},{"well":"N8","cycle":40.7,"rn":0.0013},{"well":"N8","cycle":41.3,"rn":0.0007},
{"well":"N9","cycle":1,"rn":0.0043},{"well":"N9","cycle":2,"rn":0.0039},{"well":"N9","cycle":3,"rn":0.0033},{"well":"N9","cycle":4,"rn":0.0024},{"well":"N9","cycle":5,"rn":0.0016},{"well":"N9","cycle":6,"rn":0.0009},{"well":"N9","cycle":6.6,"rn":0.0003},{"well":"N9","cycle":42.3,"rn":0.0003},{"well":"N9","cycle":43.1,"rn":0.0015},{"well":"N9","cycle":43.6,"rn":0.0011},{"well":"N9","cycle":44.2,"rn":0.0009},{"well":"N9","cycle":44.8,"rn":0.0014}
 ]},
 "mark": {"type": "line", "clip": true, "strokeWidth": 1.6},
 "encoding": {
  "x": {"field": "cycle", "type": "quantitative", "axis": null},
  "y": {"field": "rn", "type": "quantitative"},
  "color": {"field": "well", "type": "nominal", "legend": null}
 }
},
{
 "data": {"values": [{"label": "Aerosol:", "cycle": -0.42, "rn": 0.283}]},
 "mark": {"type": "text", "align": "left", "baseline": "alphabetic", "font": "Liberation Sans", "fontSize": 47, "color": "#ff0000"},
 "encoding": {
  "x": {"field": "cycle", "type": "quantitative", "axis": {"orient": "top", "labels": false, "ticks": false, "grid": false, "domain": true, "domainColor": "#b8b8b8", "domainWidth": 2, "title": null}},
  "y": {"field": "rn", "type": "quantitative"},
  "text": {"field": "label"}
 }
},
{
 "data": {"values": [{"label": "1x", "cycle": 9.07, "rn": 0.313}]},
 "mark": {"type": "text", "align": "left", "baseline": "alphabetic", "font": "DejaVu Sans", "fontWeight": "bold", "fontSize": 26, "color": "#1b1f63"},
 "encoding": {
  "x": {"field": "cycle", "type": "quantitative", "axis": null},
  "y": {"field": "rn", "type": "quantitative"},
  "text": {"field": "label"}
 }
},
{
 "data": {"values": [{"label": "10x", "cycle": 10.34, "rn": 0.0577}, {"label": "100x", "cycle": 11.47, "rn": 0.00885}, {"label": "1000x", "cycle": 16.52, "rn": 0.00226}]},
 "mark": {"type": "text", "align": "left", "baseline": "alphabetic", "font": "DejaVu Sans", "fontSize": 31, "color": "#1b2063"},
 "encoding": {
  "x": {"field": "cycle", "type": "quantitative", "axis": null},
  "y": {"field": "rn", "type": "quantitative"},
  "text": {"field": "label"}
 }
}
]
}
